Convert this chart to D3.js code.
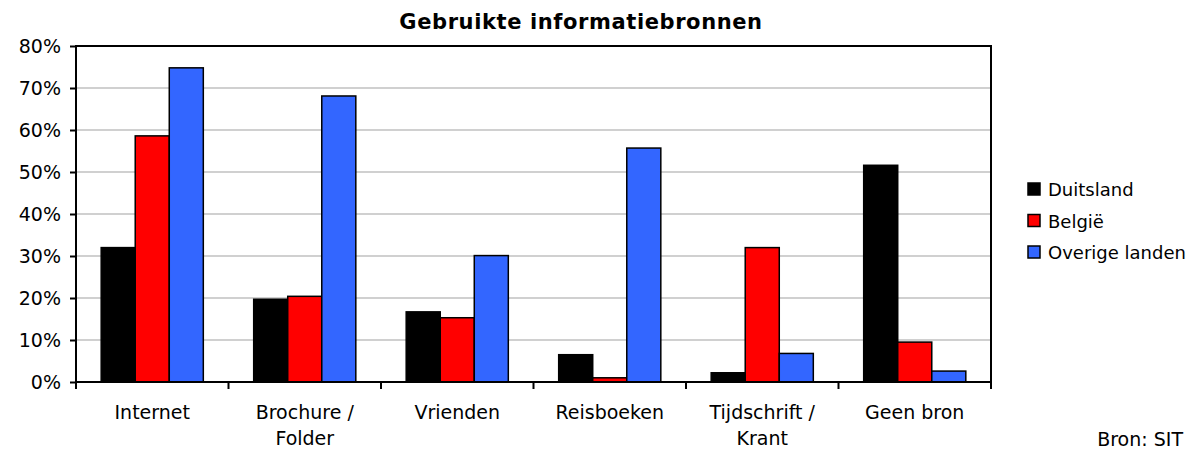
<!DOCTYPE html>
<html>
<head>
<meta charset="utf-8">
<script src="https://cdn.jsdelivr.net/npm/d3@7"></script>
<style>
  body { margin: 0; background: #fff; }
  svg { font-family: "DejaVu Sans", Tahoma, sans-serif; }
</style>
</head>
<body>
<div id="chart"></div>
<script>
const categories = [["Internet"], ["Brochure /", "Folder"], ["Vrienden"], ["Reisboeken"], ["Tijdschrift /", "Krant"], ["Geen bron"]];
const seriesNames = ["Duitsland", "België", "Overige landen"];
const seriesColors = ["#000000", "#ff0000", "#3366ff"];
const duitsland = [32, 19.7, 16.7, 6.5, 2.2, 51.6];
const belgie = [58.6, 20.4, 15.3, 1.0, 32.0, 9.5];
const overige = [74.8, 68.1, 30.1, 55.7, 6.8, 2.6];
const yTicks = [0, 10, 20, 30, 40, 50, 60, 70, 80];

const width = 1200, height = 450;
const margin = { top: 46, right: 209, bottom: 68, left: 76 };

const svg = d3.select('#chart').append('svg')
  .attr('width', width)
  .attr('height', height);

const x0 = d3.scaleBand()
  .domain(d3.range(categories.length))
  .range([margin.left, width - margin.right])
  .paddingInner(0)
  .paddingOuter(0);

const x1 = d3.scaleBand()
  .domain(d3.range(seriesNames.length))
  .range([0, x0.bandwidth()])
  .paddingOuter(0.74)
  .paddingInner(0);

const y = d3.scaleLinear()
  .domain([0, 80])
  .range([height - margin.bottom, margin.top]);

// gridlines
svg.append('g')
  .selectAll('line')
  .data(yTicks.slice(1, -1))
  .enter().append('line')
  .attr('x1', margin.left).attr('x2', width - margin.right)
  .attr('y1', d => y(d)).attr('y2', d => y(d))
  .attr('stroke', '#c0c0c0')
  .attr('stroke-width', 1.5);

// bars
const values = [duitsland, belgie, overige];
const groups = svg.append('g')
  .selectAll('g')
  .data(categories.map((c, i) => values.map(s => s[i])))
  .enter().append('g')
  .attr('transform', (d, i) => `translate(${x0(i)},0)`);

groups.selectAll('rect')
  .data(d => d)
  .enter().append('rect')
  .attr('x', (d, j) => x1(j))
  .attr('y', d => y(d))
  .attr('width', x1.bandwidth())
  .attr('height', d => y(0) - y(d))
  .attr('fill', (d, j) => seriesColors[j])
  .attr('stroke', '#000')
  .attr('stroke-width', 1.5);

// frame
svg.append('rect')
  .attr('x', margin.left).attr('y', margin.top)
  .attr('width', width - margin.left - margin.right)
  .attr('height', height - margin.top - margin.bottom)
  .attr('fill', 'none')
  .attr('stroke', '#000')
  .attr('stroke-width', 2);

// y axis
const yAxis = svg.append('g')
  .attr('transform', `translate(${margin.left},0)`)
  .call(d3.axisLeft(y).tickValues(yTicks).tickFormat(d => d + '%').tickSize(6).tickPadding(9));
yAxis.select('.domain').remove();
yAxis.selectAll('line').attr('stroke', '#000').attr('stroke-width', 2);
yAxis.selectAll('text').style('font-size', '19px').attr('fill', '#000').attr('font-family', null);
yAxis.attr('font-family', null);

// x axis ticks at category boundaries
const boundaries = d3.range(categories.length + 1).map(i => i < categories.length ? x0(i) : x0(i - 1) + x0.bandwidth());
svg.append('g')
  .selectAll('line')
  .data(boundaries)
  .enter().append('line')
  .attr('x1', d => d).attr('x2', d => d)
  .attr('y1', y(0)).attr('y2', y(0) + 7)
  .attr('stroke', '#000')
  .attr('stroke-width', 2);

// category labels
const labels = svg.append('g')
  .selectAll('text')
  .data(categories)
  .enter().append('text')
  .attr('text-anchor', 'middle')
  .attr('x', (d, i) => x0(i) + x0.bandwidth() / 2)
  .attr('y', y(0) + 37)
  .style('font-size', '19px')
  .attr('fill', '#000');
labels.selectAll('tspan')
  .data(d => d)
  .enter().append('tspan')
  .attr('x', function() { return this.parentNode.getAttribute('x'); })
  .attr('dy', (d, i) => i === 0 ? 0 : 26)
  .text(d => d);

// title
svg.append('text')
  .attr('x', 581)
  .attr('y', 29)
  .attr('text-anchor', 'middle')
  .style('font-size', '21px')
  .style('font-weight', 'bold')
  .style('letter-spacing', '0.6px')
  .text('Gebruikte informatiebronnen');

// legend
const legend = svg.append('g')
  .selectAll('g')
  .data(seriesNames)
  .enter().append('g')
  .attr('transform', (d, i) => `translate(1028,${183 + i * 31.5})`);
legend.append('rect')
  .attr('width', 12).attr('height', 12)
  .attr('fill', (d, i) => seriesColors[i])
  .attr('stroke', '#000')
  .attr('stroke-width', 1.5);
legend.append('text')
  .attr('x', 20)
  .attr('y', 13)
  .style('font-size', '18px')
  .text(d => d);

// source
svg.append('text')
  .attr('x', 1183)
  .attr('y', 446)
  .attr('text-anchor', 'end')
  .style('font-size', '19px')
  .text('Bron: SIT');
</script>
</body>
</html>
